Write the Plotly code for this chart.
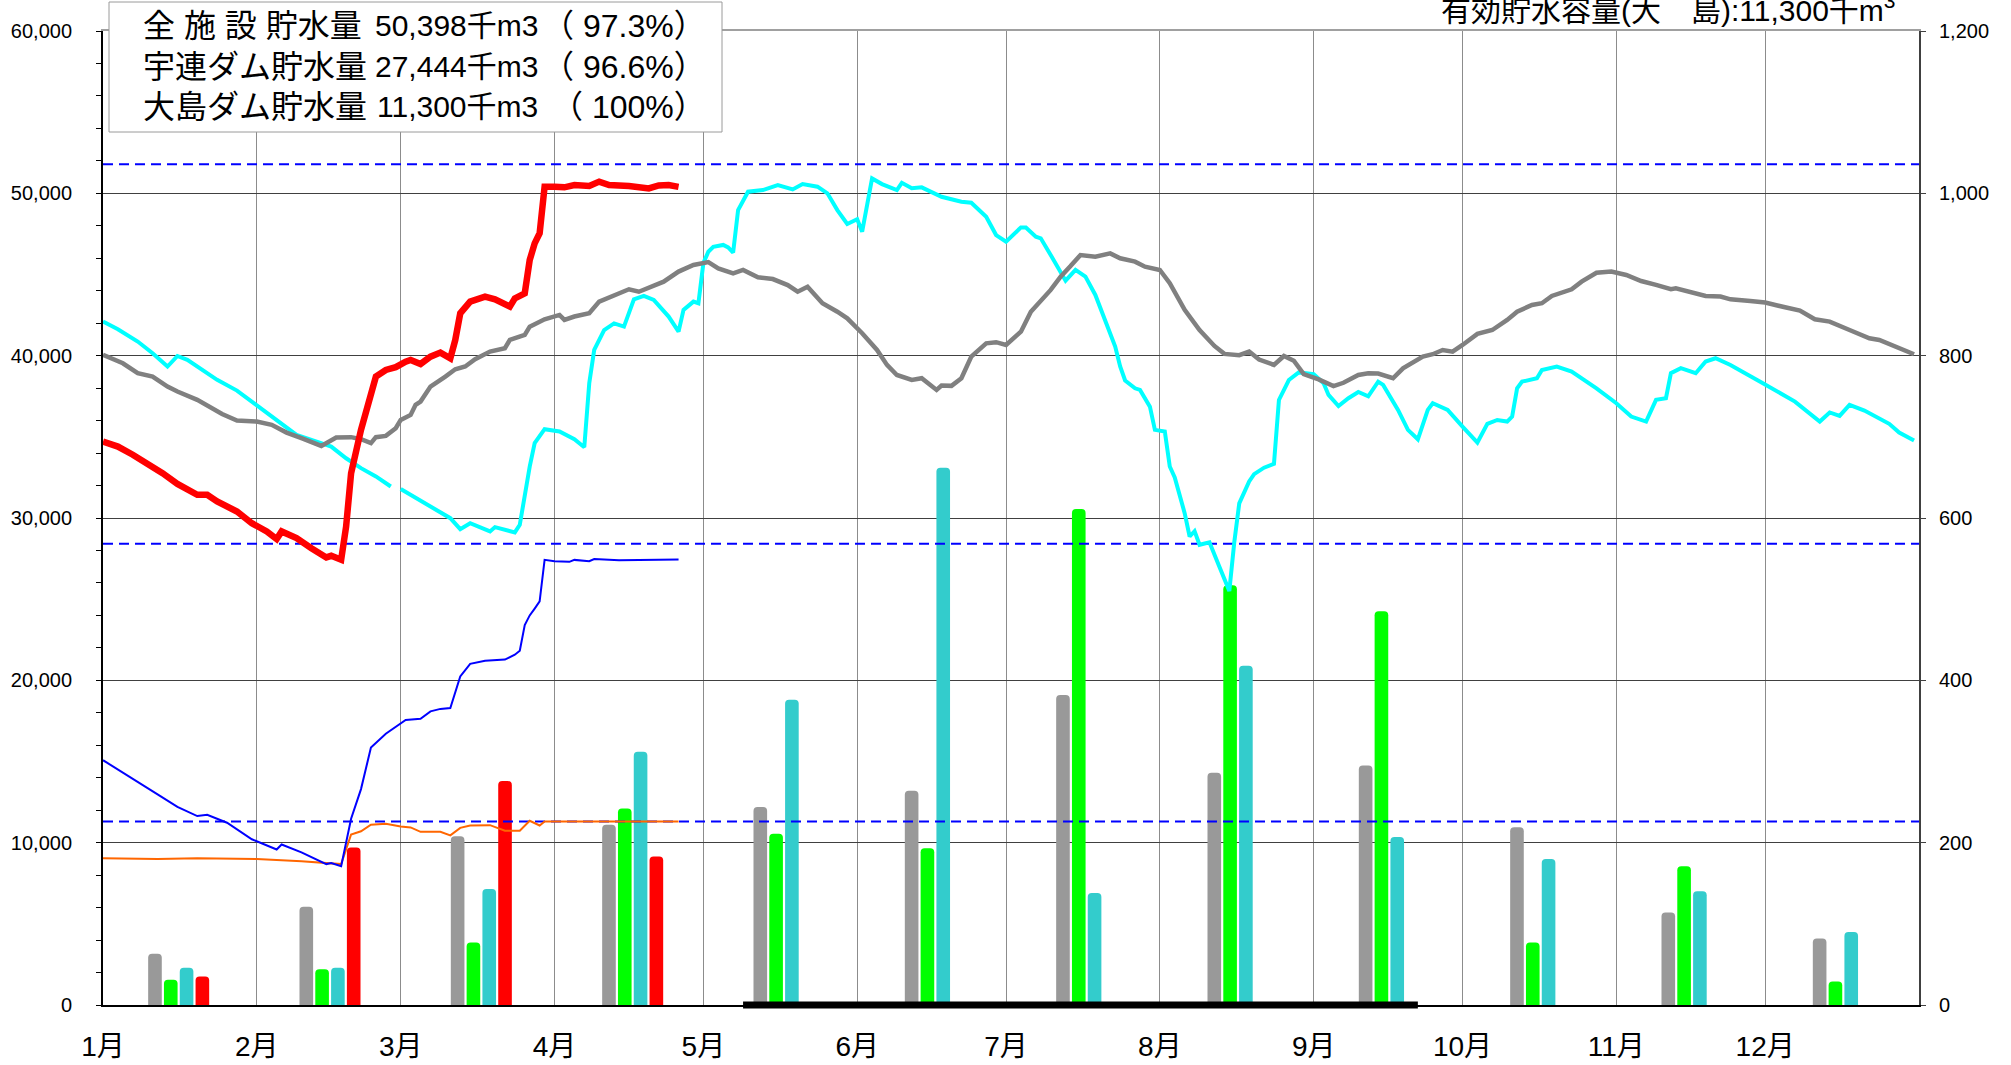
import pandas as pd
import plotly.graph_objects as go

# ---------------- data ----------------
months = ["1月", "2月", "3月", "4月", "5月", "6月", "7月", "8月", "9月", "10月", "11月", "12月"]
month_start = ["2024-%02d-01" % m for m in range(1, 13)]

# monthly rainfall (mm, right axis)
rain_avg = [63, 121, 208, 222, 244, 264, 382, 286, 295, 219, 114, 82]
rain_green = [31, 44, 77, 242, 211, 193, 611, 517, 485, 77, 171, 29]
rain_teal = [46, 46, 143, 312, 376, 662, 138, 418, 207, 180, 140, 90]
rain_now = [35, 194, 276, 183, None, None, None, None, None, None, None, None]

# storage (千m3, left axis) ; x = day of year (0 = 1月1日)
now_total_doy = [0, 3, 6, 9, 12, 15, 19, 21, 23, 27, 30, 33, 35, 36, 39, 42, 45, 46, 48, 49, 50, 52, 54, 55,
                 57, 59, 61, 62, 64, 66, 68, 70, 71, 72, 74, 77, 79, 82, 83, 85, 86, 87, 88, 89, 91, 93, 95,
                 98, 100, 102, 106, 110, 112, 114, 116]
now_total_val = [34700, 34400, 33900, 33380, 32760, 32100, 31430, 31430, 31020, 30400, 29680, 29170, 28700,
                 29170, 28760, 28140, 27570, 27670, 27430, 29480, 32760, 35430, 37690, 38710, 39120, 39290,
                 39630, 39740, 39490, 39940, 40190, 39840, 40970, 42610, 43330, 43640, 43470, 43020, 43530,
                 43840, 45890, 46920, 47540, 50410, 50410, 50370, 50510, 50450, 50720, 50510, 50450, 50300,
                 50490, 50510, 50398]

now_uren_doy = [0, 3, 8, 11, 15, 19, 21, 25, 30, 35, 36, 40, 45, 46, 48, 50, 52, 54, 57, 59, 61, 64, 66, 68,
                70, 72, 74, 77, 81, 83, 84, 85, 86, 87, 88, 89, 91, 94, 95, 98, 99, 104, 111, 116]
now_uren_val = [15080, 14520, 13540, 12980, 12200, 11640, 11720, 11230, 10210, 9580, 9890, 9400, 8680, 8750,
                8550, 11470, 13300, 15860, 16710, 17120, 17560, 17630, 18090, 18240, 18290, 20240, 21020,
                21210, 21280, 21580, 21820, 23400, 24000, 24420, 24860, 27420, 27340, 27300, 27420, 27340,
                27470, 27390, 27440, 27444]

now_oshima_doy = [0, 11, 19, 31, 40, 45, 48, 50, 52, 54, 57, 60, 62, 64, 68, 70, 72, 74, 78, 81, 84, 86, 88,
                  89, 95, 105, 116]
now_oshima_val = [9040, 8990, 9040, 8990, 8850, 8750, 8680, 10500, 10700, 11110, 11160, 10990, 10940, 10670,
                  10670, 10450, 10910, 11060, 11080, 10740, 10740, 11350, 11060, 11300, 11300, 11300, 11300]

avg_doy = [0, 4, 7, 10, 13, 15, 19, 22, 24, 27, 31, 34, 37, 40, 44, 47, 50, 52, 54, 55, 57, 59, 60, 62, 63, 64,
           66, 69, 71, 73, 75, 78, 81, 82, 85, 86, 89, 92, 93, 95, 98, 100, 103, 106, 108, 110, 113, 116, 119,
           122, 124, 127, 129, 132, 135, 138, 140, 142, 145, 148, 150, 153, 156, 158, 160, 163, 165, 168, 169,
           171, 173, 175, 178, 180, 182, 185, 187, 191, 193, 195, 197, 200, 203, 205, 208, 210, 213, 215, 218,
           221, 224, 226, 229, 231, 233, 236, 238, 240, 242, 245, 248, 250, 253, 255, 257, 260, 262, 266, 268,
           270, 272, 274, 277, 280, 283, 285, 288, 290, 292, 296, 298, 301, 304, 307, 310, 313, 316, 317, 323,
           326, 328, 332, 335, 339, 342, 345, 348, 352, 356, 358, 362, 365]
avg_val = [40050, 39530, 38920, 38710, 38100, 37790, 37280, 36760, 36410, 36000, 35940, 35740, 35260, 34920,
           34440, 34960, 34980, 34850, 34610, 34980, 35060, 35530, 36040, 36350, 36970, 37170, 38100, 38710,
           39160, 39330, 39780, 40250, 40460, 40970, 41280, 41790, 42240, 42510, 42200, 42410, 42610, 43330,
           43740, 44090, 43940, 44210, 44560, 45180, 45590, 45760, 45380, 45070, 45280, 44830, 44720, 44350,
           43940, 44250, 43230, 42710, 42300, 41380, 40350, 39430, 38810, 38510, 38610, 37890, 38160, 38140,
           38610, 39940, 40760, 40830, 40660, 41480, 42710, 44050, 44870, 45520, 46200, 46100, 46300, 46000,
           45790, 45480, 45280, 44460, 42820, 41580, 40600, 40110, 40030, 40250, 39760, 39430, 39980, 39690,
           38860, 38540, 38130, 38330, 38810, 38920, 38900, 38610, 39220, 39940, 40090, 40350, 40250, 40660,
           41340, 41580, 42200, 42710, 43120, 43230, 43680, 44090, 44560, 45110, 45180, 44970, 44600, 44360,
           44090, 44150, 43680, 43640, 43470, 43370, 43270, 42980, 42780, 42240, 42100, 41580, 41070, 40970,
           40460, 40090]

last_doy = [0, 3, 7, 10, 13, 15, 17, 20, 23, 27, 30, 33, 36, 39, 42, 46, 49, 52, 55, 58, 59, 60, 63, 66, 70,
            72, 74, 78, 79, 83, 84, 85, 86, 87, 89, 92, 95, 97, 98, 99, 101, 103, 105, 107, 109, 111, 114, 116,
            117, 119, 120, 121, 122, 123, 125, 126, 127, 128, 130, 133, 136, 139, 141, 144, 146, 148, 150, 152,
            153, 155, 157, 160, 161, 163, 165, 169, 173, 175, 178, 180, 182, 185, 186, 188, 189, 191, 193, 194,
            196, 198, 200, 202, 204, 205, 206, 208, 209, 211, 212, 214, 215, 216, 218, 219, 220, 221, 223, 225,
            227, 228, 229, 231, 232, 234, 236, 237, 239, 241, 244, 246, 247, 249, 251, 253, 255, 257, 258, 261,
            263, 265, 267, 268, 271, 274, 277, 279, 281, 283, 284, 285, 286, 289, 290, 293, 296, 301, 305, 308,
            311, 313, 315, 316, 318, 321, 323, 325, 328, 334, 341, 346, 348, 350, 352, 355, 360, 362, 365]
last_val = [42100, 41630, 40870, 40150, 39330, 39980, 39740, 39160, 38510, 37850, 37170, 36450, 35740, 35120,
            34810, 34400, 33680, 33070, 32560, 31940, None, 31780, 31280, 30710, 29990, 29310, 29680, 29170,
            29440, 29110, 29580, 31430, 33170, 34610, 35470, 35330, 34850, 34360, 38300, 40350, 41580, 41990,
            41790, 43470, 43680, 43430, 42410, 41480, 42820, 43330, 43230, 45700, 46400, 46700, 46820, 46670,
            46350, 48970, 50100, 50200, 50510, 50240, 50570, 50410, 50000, 48970, 48110, 48400, 47640, 50920,
            50570, 50200, 50650, 50310, 50370, 49790, 49480, 49420, 48560, 47430, 47020, 47900, 47900, 47330,
            47230, 46200, 45180, 44620, 45280, 44870, 43740, 42100, 40560, 39330, 38470, 37990, 37890, 36860,
            35430, 35330, 33170, 32500, 30300, 28860, 29190, 28350, 28500, 27000, 25500, 28500, 30900, 32250,
            32700, 33100, 33330, 37270, 38500, 38970, 38860, 38300, 37580, 36900, 37380, 37760, 37500, 38400,
            38200, 36660, 35430, 34850, 36660, 37070, 36660, 35630, 34650, 35800, 36040, 35940, 36250, 37990,
            38400, 38610, 39120, 39330, 39020, 37990, 37070, 36250, 35940, 37280, 37380, 38920, 39230, 38920,
            39640, 39840, 39430, 38400, 37170, 35940, 36500, 36290, 36970, 36620, 35800, 35260, 34770]

# effective capacities (千m3)
capacity = [51797, 28410, 11300]
# storage summary
summary_labels = ["全 施 設 貯水量", "宇連ダム貯水量", "大島ダム貯水量"]
summary_storage = [50398, 27444, 11300]
summary_pct = ["97.3", "96.6", "100"]

# restriction period (thick black band on the axis)
band_doy = [129, 265]

# ---------------- helpers ----------------
BASE = pd.Timestamp("2024-01-01")


def to_dates(doy):
    return [BASE + pd.Timedelta(days=d) for d in doy]


FONT = "Liberation Sans, Noto Sans CJK JP, sans-serif"
W, H = 2011, 1065
ML, MR, MT, MB = 103, 92, 31, 60
PW, PH = W - ML - MR, H - MT - MB


def px(X):
    return (X - ML) / PW


def py(Y):
    return (H - MB - Y) / PH


fig = go.Figure()

# ---- bars (base subplot: categorical x, right y) ----
slot, bw = 0.1044, 0.09
bar_series = [(rain_avg, "#999999"), (rain_green, "#00FF00"), (rain_teal, "#33CCCC"), (rain_now, "#FF0000")]
for i, (vals, col) in enumerate(bar_series):
    fig.add_trace(go.Bar(
        x=months, y=vals, xaxis="x", yaxis="y",
        width=bw, offset=(i - 2) * slot + (slot - bw) / 2,
        marker=dict(color=col, line=dict(width=0), cornerradius=4),
        hoverinfo="skip",
    ))

# ---- lines (overlay subplot: date x2, left y2) ----
x_full = [BASE, BASE + pd.Timedelta(days=366)]
for cap in capacity:
    fig.add_trace(go.Scatter(x=x_full, y=[cap, cap], xaxis="x2", yaxis="y2", mode="lines",
                             line=dict(color="#0000FF", width=2, dash="10px,6px")))

fig.add_trace(go.Scatter(x=to_dates(last_doy), y=last_val, xaxis="x2", yaxis="y2", mode="lines",
                         line=dict(color="#00FFFF", width=4), connectgaps=False))
fig.add_trace(go.Scatter(x=to_dates(avg_doy), y=avg_val, xaxis="x2", yaxis="y2", mode="lines",
                         line=dict(color="#808080", width=4.5)))
fig.add_trace(go.Scatter(x=to_dates(now_oshima_doy), y=now_oshima_val, xaxis="x2", yaxis="y2", mode="lines",
                         line=dict(color="#FF6600", width=2)))
fig.add_trace(go.Scatter(x=to_dates(now_uren_doy), y=now_uren_val, xaxis="x2", yaxis="y2", mode="lines",
                         line=dict(color="#0000FF", width=2)))
fig.add_trace(go.Scatter(x=to_dates(now_total_doy), y=now_total_val, xaxis="x2", yaxis="y2", mode="lines",
                         line=dict(color="#FF0000", width=6.5)))

band_dates = to_dates(band_doy)
fig.add_shape(type="line", xref="x2", yref="paper", x0=band_dates[0], x1=band_dates[1], y0=0, y1=0,
              line=dict(color="black", width=7), layer="above")

# ---- summary box ----
fig.add_shape(type="rect", xref="paper", yref="paper", x0=px(109), x1=px(722), y0=py(132), y1=py(2),
              line=dict(color="#9a9a9a", width=1), fillcolor="white", layer="above")
line_y = [26, 66.5, 106.5]
for lbl, st, pc, yy in zip(summary_labels, summary_storage, summary_pct, line_y):
    fig.add_annotation(xref="paper", yref="paper", x=px(141), y=py(yy), xanchor="left", yanchor="middle",
                       text=lbl, showarrow=False, font=dict(size=32, family=FONT, color="black"))
    fig.add_annotation(xref="paper", yref="paper", x=px(540), y=py(yy), xanchor="right", yanchor="middle",
                       text=f"{st:,}千m3", showarrow=False, font=dict(size=30, family=FONT, color="black"))
    fig.add_annotation(xref="paper", yref="paper", x=px(708), y=py(yy), xanchor="right", yanchor="middle",
                       text=f"（ {pc}%）", showarrow=False, font=dict(size=32, family=FONT, color="black"))

fig.add_annotation(xref="paper", yref="paper", x=px(1898), y=py(8), xanchor="right", yanchor="middle",
                   text="有効貯水容量(大　島):11,300千m<sup>3</sup>", showarrow=False,
                   font=dict(size=30, family=FONT, color="black"))

fig.update_layout(
    width=W, height=H,
    margin=dict(l=ML, r=MR, t=MT, b=MB, pad=0, autoexpand=False),
    paper_bgcolor="white", plot_bgcolor="white",
    showlegend=False, barmode="overlay",
    font=dict(family=FONT, color="black"),
    xaxis=dict(type="category", range=[-0.5, 11.5], showgrid=False, showticklabels=False, ticks="",
               showline=True, side="top", linecolor="#a0a0a0", linewidth=2, zeroline=False, automargin=False),
    yaxis=dict(side="right", range=[0, 1200], dtick=200, tickformat=",", showgrid=False, showline=True,
               linecolor="#404040", linewidth=2, ticks="outside", ticklen=5, tickcolor="#404040",
               tickfont=dict(size=20, family=FONT), ticklabelstandoff=9, zeroline=False, automargin=False),
    xaxis2=dict(type="date", overlaying="x", anchor="y2", side="bottom",
                range=[BASE, BASE + pd.Timedelta(days=366)], tickmode="array", tickvals=month_start,
                ticktext=months, showgrid=True, gridcolor="#8c8c8c", gridwidth=1, showline=True,
                linecolor="black", linewidth=2, ticks="", tickfont=dict(size=28, family=FONT),
                ticklabelstandoff=15, zeroline=False, automargin=False),
    yaxis2=dict(overlaying="y", side="left", anchor="x2", range=[0, 60000], dtick=10000, tickformat=",",
                showgrid=True, gridcolor="#404040", gridwidth=1, showline=True, linecolor="black", linewidth=2,
                ticks="outside", ticklen=5, tickcolor="black",
                minor=dict(dtick=2000, ticks="outside", ticklen=5, tickcolor="black", showgrid=False),
                tickfont=dict(size=20, family=FONT), ticklabelstandoff=20, zeroline=False, automargin=False),
)

fig.write_html("out.html", config={"displayModeBar": False},
               post_script="document.body.style.margin='0px';document.body.style.overflow='hidden';")
